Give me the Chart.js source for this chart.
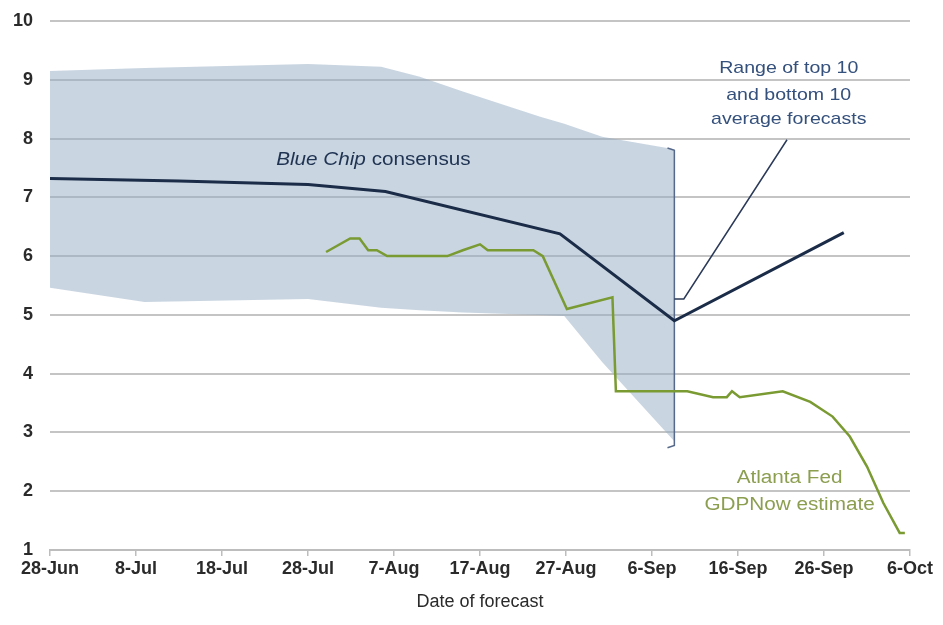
<!DOCTYPE html>
<html>
<head>
<meta charset="utf-8">
<script src="https://cdn.jsdelivr.net/npm/chart.js@4.4.1/dist/chart.umd.min.js"></script>
<style>
  html, body { margin: 0; padding: 0; background: #fff; }
  #wrap { width: 943px; height: 625px; position: relative; }
</style>
</head>
<body>
<div id="wrap"><canvas id="gdpChart"></canvas></div>
<script>
// x values are days since 28-Jun
const tickLabels = ['28-Jun', '8-Jul', '18-Jul', '28-Jul', '7-Aug', '17-Aug', '27-Aug', '6-Sep', '16-Sep', '26-Sep', '6-Oct'];

const rangeDays = [0, 11, 30, 38.5, 43, 48, 57, 59.8, 64.2, 72.6];
const rangeHigh = [9.15, 9.2, 9.27, 9.22, 9.05, 8.8, 8.37, 8.25, 8.03, 7.82];
const rangeLow = [5.46, 5.22, 5.27, 5.12, 5.08, 5.04, 5.0, 4.98, 4.2, 2.85];

const blueChipDays = [0, 15, 30, 39, 59.3, 72.6, 92.3];
const blueChipValues = [7.32, 7.28, 7.22, 7.1, 6.38, 4.9, 6.4];

const gdpNowDays = [32.1, 34.9, 36.0, 37.0, 38.0, 39.2, 46.2, 48.0, 50.0, 50.9, 56.2, 57.3, 60.1, 65.4, 65.8, 74.1, 77.1, 78.7, 79.3, 80.2, 85.2, 88.4, 91.0, 93.0, 95.0, 96.9, 98.8, 99.4];
const gdpNowValues = [6.07, 6.3, 6.3, 6.1, 6.1, 6.0, 6.0, 6.1, 6.2, 6.1, 6.1, 6.0, 5.1, 5.3, 3.7, 3.7, 3.6, 3.6, 3.7, 3.6, 3.7, 3.52, 3.27, 2.93, 2.42, 1.8, 1.29, 1.29];

// bracket marking the range, and the pointer from the label
const bracketDays = [71.8, 72.6, 72.6, 71.8];
const bracketValues = [7.84, 7.8, 2.78, 2.74];
const pointerDays = [72.6, 73.7, 85.7];
const pointerValues = [5.27, 5.27, 7.98];

function pts(xs, ys) {
    return xs.map((x, i) => ({ x: x, y: ys[i] }));
}

const FONT = "'Liberation Sans', Arial, sans-serif";

// text is a bit wider than normal in the original, stretch it sideways
function wideText(ctx, text, x, y, sx) {
    ctx.save();
    ctx.translate(x, y);
    ctx.scale(sx, 1);
    ctx.fillText(text, 0, 0);
    ctx.restore();
}

const labelPlugin = {
    id: 'labels',
    afterDatasetsDraw(chart) {
        const ctx = chart.ctx;
        const xs = chart.scales.x, ys = chart.scales.y;
        const sx = 1.15;
        ctx.save();
        ctx.textBaseline = 'middle';

        // Blue Chip consensus (Blue Chip in italics)
        const bx = xs.getPixelForValue(37.6), by = ys.getPixelForValue(7.64);
        ctx.font = 'italic 18px ' + FONT;
        const w1 = ctx.measureText('Blue Chip').width * sx;
        ctx.font = '18px ' + FONT;
        const w2 = ctx.measureText(' consensus').width * sx;
        const left = bx - (w1 + w2) / 2;
        ctx.textAlign = 'left';
        ctx.fillStyle = '#1f3352';
        ctx.font = 'italic 18px ' + FONT;
        wideText(ctx, 'Blue Chip', left, by, sx);
        ctx.font = '18px ' + FONT;
        wideText(ctx, ' consensus', left + w1, by, sx);

        ctx.textAlign = 'center';
        ctx.fillStyle = '#34507c';
        ctx.font = '17px ' + FONT;
        const rx = xs.getPixelForValue(85.9);
        ['Range of top 10', 'and bottom 10', 'average forecasts'].forEach((t, i) => {
            wideText(ctx, t, rx, ys.getPixelForValue([9.2, 8.74, 8.32][i]), sx);
        });

        ctx.fillStyle = '#8c9e50';
        ctx.font = '18px ' + FONT;
        const ax = xs.getPixelForValue(86);
        wideText(ctx, 'Atlanta Fed', ax, ys.getPixelForValue(2.23), sx);
        wideText(ctx, 'GDPNow estimate', ax, ys.getPixelForValue(1.77), sx);
        ctx.restore();
    }
};

document.addEventListener('DOMContentLoaded', function() {
    const ctx = document.getElementById('gdpChart').getContext('2d');
    const gdpChart = new Chart(ctx, {
        type: 'line',
        data: {
            datasets: [{
                label: 'High',
                data: pts(rangeDays, rangeHigh),
                borderWidth: 0,
                pointRadius: 0,
                fill: false,
                order: 10
            }, {
                label: 'Low',
                data: pts(rangeDays, rangeLow),
                borderWidth: 0,
                pointRadius: 0,
                backgroundColor: 'rgba(148, 172, 195, 0.5)',
                fill: '-1',
                order: 9
            }, {
                label: 'Bracket',
                data: pts(bracketDays, bracketValues),
                borderColor: '#56698a',
                borderWidth: 1.5,
                pointRadius: 0,
                fill: false,
                order: 3
            }, {
                label: 'Pointer',
                data: pts(pointerDays, pointerValues),
                borderColor: '#2b3a58',
                borderWidth: 1.5,
                pointRadius: 0,
                fill: false,
                order: 2
            }, {
                label: 'Blue Chip consensus',
                data: pts(blueChipDays, blueChipValues),
                borderColor: '#1b2c48',
                borderWidth: 3,
                pointRadius: 0,
                fill: false,
                order: 1
            }, {
                label: 'Atlanta Fed GDPNow estimate',
                data: pts(gdpNowDays, gdpNowValues),
                borderColor: '#7a9a32',
                borderWidth: 2.5,
                pointRadius: 0,
                fill: false,
                order: 0
            }]
        },
        options: {
            responsive: true,
            maintainAspectRatio: false,
            animation: false,
            layout: { padding: { top: 21, right: 33, left: 0, bottom: 8 } },
            plugins: {
                legend: { display: false },
                tooltip: { enabled: false }
            },
            scales: {
                x: {
                    type: 'linear',
                    min: 0,
                    max: 100,
                    border: { display: true, color: '#bdbdbd', width: 2 },
                    grid: { drawOnChartArea: false, drawTicks: true, tickLength: 6, color: '#bdbdbd', lineWidth: 1.5 },
                    ticks: {
                        stepSize: 10,
                        autoSkip: false,
                        maxRotation: 0,
                        padding: 2,
                        color: '#2a2a2a',
                        font: { family: FONT, size: 18, weight: '600' },
                        callback: (v) => tickLabels[Math.round(v / 10)]
                    },
                    title: {
                        display: true,
                        text: 'Date of forecast',
                        color: '#2a2a2a',
                        font: { family: FONT, size: 18 },
                        padding: { top: 6 }
                    },
                    afterFit: (s) => { s.height = 67; }
                },
                y: {
                    min: 1,
                    max: 10,
                    border: { display: false },
                    grid: { color: '#c4c4c4', lineWidth: 2, drawTicks: false },
                    ticks: {
                        stepSize: 1,
                        padding: 17,
                        color: '#2a2a2a',
                        font: { family: FONT, size: 18, weight: '600' }
                    },
                    afterFit: (s) => { s.width = 50; s.paddingTop = 0; s.paddingBottom = 0; }
                }
            }
        },
        plugins: [labelPlugin]
    });
});
</script>
</body>
</html>
